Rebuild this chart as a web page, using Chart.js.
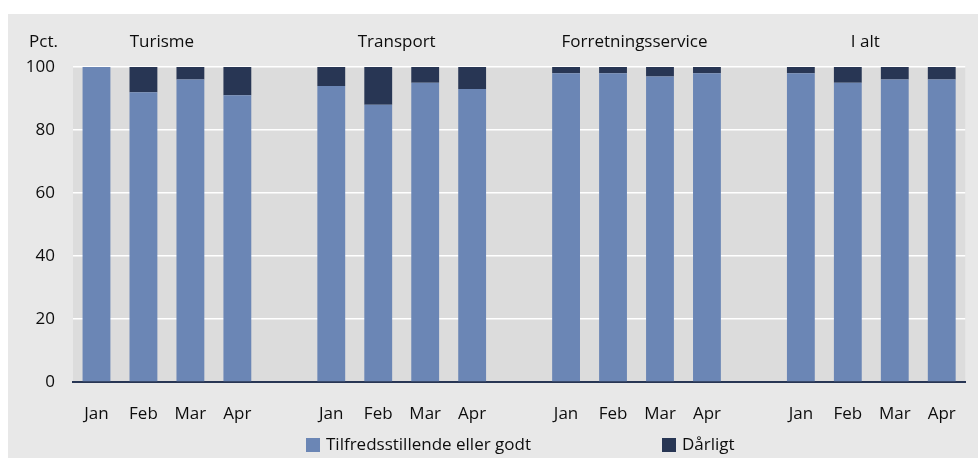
<!DOCTYPE html>
<html>
<head>
<meta charset="utf-8">
<script src="https://cdn.jsdelivr.net/npm/chart.js@4.4.1/dist/chart.umd.min.js"></script>
<style>
  html, body { margin: 0; padding: 0; background: #fff; }
  #wrap { position: absolute; left: 8px; top: 14px; width: 970px; height: 444px; background: #e8e8e8; }
</style>
</head>
<body>
<div id="wrap"><canvas id="chart" width="970" height="444"></canvas></div>
<script>
// Data — andel virksomheder (pct.)
const groups = ['Turisme', 'Transport', 'Forretningsservice', 'I alt'];
const months = ['Jan', 'Feb', 'Mar', 'Apr'];
const godt = [
  [100, 92, 96, 91],
  [94, 88, 95, 93],
  [98, 98, 97, 98],
  [98, 95, 96, 96]
];
const daarligt = [
  [0, 8, 4, 9],
  [6, 12, 5, 7],
  [2, 2, 3, 2],
  [2, 5, 4, 4]
];
const yTicks = [0, 20, 40, 60, 80, 100];

const LIGHT = '#6b86b5';
const DARK = '#283654';
const TEXT = '#0d0d0d';
const FONT = "'Open Sans', sans-serif";
const FSIZE = 17;

// Byg kategorier med et tomt felt mellem grupperne
const labels = [];
const godtData = [];
const daarligtData = [];
const groupCenters = [];
groups.forEach((g, gi) => {
  if (gi > 0) { labels.push(''); godtData.push(null); daarligtData.push(null); }
  groupCenters.push(labels.length + (months.length - 1) / 2);
  months.forEach((m, mi) => {
    labels.push(m);
    godtData.push(godt[gi][mi]);
    daarligtData.push(daarligt[gi][mi]);
  });
});

const decor = {
  id: 'decor',
  beforeDraw(chart) {
    const { ctx, chartArea: a } = chart;
    ctx.save();
    ctx.fillStyle = '#dcdcdc';
    ctx.fillRect(a.left, a.top, a.right - a.left, a.bottom - a.top);
    ctx.restore();
  },
  afterDraw(chart) {
    const { ctx } = chart;
    const x = chart.scales.x;
    ctx.save();
    ctx.font = FSIZE + 'px ' + FONT;
    ctx.fillStyle = TEXT;
    ctx.textBaseline = 'middle';

    // Pct.
    ctx.textAlign = 'right';
    ctx.fillText('Pct.', 50, 28);

    // Gruppe-titler
    ctx.textAlign = 'center';
    const offsets = [-5, -5, -2, -6];
    groups.forEach((g, i) => {
      ctx.fillText(g, x.getPixelForValue(groupCenters[i]) + offsets[i], 28);
    });

    // Forklaring
    const items = [
      { label: chart.data.datasets[0].label, color: LIGHT, x: 298 },
      { label: chart.data.datasets[1].label, color: DARK, x: 654 }
    ];
    ctx.textAlign = 'left';
    items.forEach(it => {
      ctx.fillStyle = it.color;
      ctx.fillRect(it.x, 424, 14, 14);
      ctx.fillStyle = TEXT;
      ctx.fillText(it.label, it.x + 20, 431);
    });
    ctx.restore();
  }
};

new Chart(document.getElementById('chart'), {
  type: 'bar',
  data: {
    labels: labels,
    datasets: [
      {
        label: 'Tilfredsstillende eller godt',
        data: godtData,
        backgroundColor: LIGHT,
        barPercentage: 0.593,
        categoryPercentage: 1
      },
      {
        label: 'Dårligt',
        data: daarligtData,
        backgroundColor: DARK,
        barPercentage: 0.593,
        categoryPercentage: 1
      }
    ]
  },
  options: {
    responsive: false,
    animation: false,
    layout: { padding: { top: 53, right: 8, left: 0, bottom: 0 } },
    plugins: {
      legend: { display: false },
      tooltip: { enabled: false }
    },
    scales: {
      x: {
        stacked: true,
        grid: { display: false, drawTicks: false },
        border: { display: true, color: DARK, width: 2 },
        ticks: {
          color: TEXT,
          padding: 22,
          autoSkip: false,
          maxRotation: 0,
          font: { family: FONT, size: FSIZE }
        },
        afterFit(scale) { scale.height = 76; }
      },
      y: {
        stacked: true,
        min: 0,
        max: 100,
        afterBuildTicks(scale) { scale.ticks = yTicks.map(v => ({ value: v })); },
        grid: { color: '#ffffff', lineWidth: 1.5, drawTicks: false },
        border: { display: false },
        ticks: {
          color: TEXT,
          padding: 18,
          font: { family: FONT, size: FSIZE }
        },
        afterFit(scale) { scale.width = 65; }
      }
    }
  },
  plugins: [decor]
});
</script>
</body>
</html>
